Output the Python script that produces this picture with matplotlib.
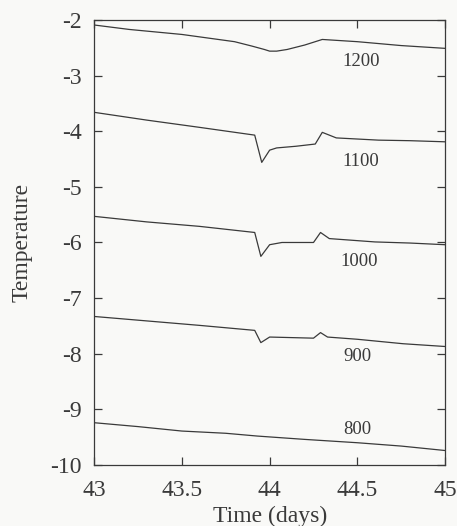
import matplotlib
matplotlib.use('Agg')
import matplotlib.pyplot as plt

# temperature traces at each depth, read as (day, temperature) pairs
t_1200 = [43.0, 43.2, 43.5, 43.8, 43.9, 43.97, 44.0, 44.04, 44.1, 44.2, 44.3, 44.5, 44.75, 45.0]
v_1200 = [-2.09, -2.17, -2.26, -2.39, -2.47, -2.53, -2.56, -2.56, -2.53, -2.45, -2.35, -2.39, -2.46, -2.51]

t_1100 = [43.0, 43.3, 43.6, 43.915, 43.955, 44.0, 44.04, 44.15, 44.26, 44.30, 44.38, 44.62, 44.8, 45.0]
v_1100 = [-3.66, -3.80, -3.93, -4.07, -4.56, -4.34, -4.30, -4.27, -4.23, -4.02, -4.12, -4.16, -4.17, -4.19]

t_1000 = [43.0, 43.3, 43.6, 43.915, 43.95, 44.0, 44.07, 44.25, 44.29, 44.34, 44.6, 44.8, 45.0]
v_1000 = [-5.53, -5.63, -5.71, -5.82, -6.25, -6.04, -6.00, -6.00, -5.82, -5.93, -5.99, -6.01, -6.04]

t_900 = [43.0, 43.3, 43.6, 43.915, 43.95, 44.0, 44.25, 44.29, 44.33, 44.5, 44.76, 45.0]
v_900 = [-7.33, -7.41, -7.49, -7.58, -7.80, -7.70, -7.72, -7.62, -7.70, -7.74, -7.82, -7.87]

t_800 = [43.0, 43.25, 43.5, 43.75, 43.93, 44.2, 44.5, 44.75, 45.0]
v_800 = [-9.24, -9.31, -9.39, -9.43, -9.48, -9.54, -9.60, -9.66, -9.74]

depths = ['1200', '1100', '1000', '900', '800']
label_x = [44.52, 44.52, 44.51, 44.50, 44.50]
label_y = [-2.74, -4.54, -6.34, -8.05, -9.37]

series = [(t_1200, v_1200), (t_1100, v_1100), (t_1000, v_1000), (t_900, v_900), (t_800, v_800)]

plt.rcParams['font.family'] = ['Liberation Serif', 'DejaVu Serif']
plt.rcParams['axes.unicode_minus'] = False
ink = '#3a3a3a'

fig = plt.figure(figsize=(4.57, 5.26), dpi=100, facecolor='#f9f9f7')
ax = fig.add_axes([0.206, 0.116, 0.768, 0.846], facecolor='#f9f9f7')

for (t, v), name, lx, ly in zip(series, depths, label_x, label_y):
    ax.plot(t, v, color=ink, linewidth=0.9)
    ax.text(lx, ly, name, fontsize=13.5, color=ink, ha='center', va='center')

ax.set_xlim(43, 45)
ax.set_ylim(-10, -2)
ax.set_xticks([43, 43.5, 44, 44.5, 45])
ax.set_xticklabels(['43', '43.5', '44', '44.5', '45'])
ax.set_yticks(range(-10, -1))

ax.tick_params(direction='in', length=6, width=0.9, colors=ink, labelsize=17,
               top=True, right=True)
ax.tick_params(axis='y', pad=9)
ax.tick_params(axis='x', pad=11)
for s in ax.spines.values():
    s.set_color(ink)
    s.set_linewidth(0.9)

ax.set_xlabel('Time (days)', fontsize=17, color=ink, labelpad=3)
ax.set_ylabel('Temperature', fontsize=17, color=ink, labelpad=13)

fig.savefig('out.png', dpi=100, facecolor=fig.get_facecolor())
